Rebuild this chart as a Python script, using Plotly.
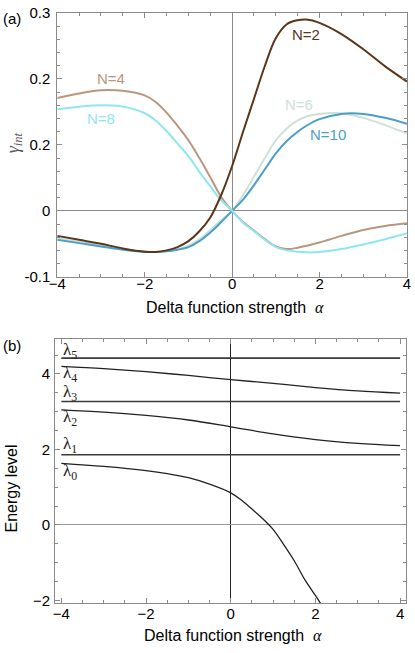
import plotly.graph_objects as go

# ---------------- data: panel (a) ----------------
alpha_a = [-4, -3.5, -3, -2.5, -2, -1.75, -1.5, -1.25, -1, -0.75, -0.5, -0.25, 0,
           0.25, 0.5, 0.75, 1, 1.25, 1.5, 1.7, 2, 2.5, 3, 3.5, 4]
gamma_N2 = [-0.038, -0.044, -0.050, -0.057, -0.062, -0.0625, -0.060, -0.055, -0.046, -0.031, -0.010, 0.024, 0.068,
            0.120, 0.170, 0.220, 0.262, 0.283, 0.289, 0.290, 0.285, 0.268, 0.245, 0.219, 0.196]
gamma_N4 = [0.171, 0.178, 0.183, 0.182, 0.175, 0.165, 0.149, 0.129, 0.107, 0.080, 0.051, 0.021, 0.0,
            -0.017, -0.030, -0.043, -0.054, -0.058, -0.056, -0.053, -0.048, -0.038, -0.029, -0.023, -0.019]
gamma_N6 = [-0.041, -0.047, -0.052, -0.058, -0.062, -0.0625, -0.061, -0.058, -0.053, -0.043, -0.029, -0.014, 0.0,
            0.024, 0.052, 0.080, 0.107, 0.125, 0.137, 0.143, 0.147, 0.148, 0.141, 0.130, 0.117]
gamma_N8 = [0.154, 0.158, 0.160, 0.158, 0.148, 0.137, 0.121, 0.102, 0.083, 0.059, 0.037, 0.016, 0.0,
            -0.018, -0.031, -0.044, -0.055, -0.060, -0.062, -0.063, -0.0625, -0.058, -0.051, -0.043, -0.034]
gamma_N10 = [-0.044, -0.049, -0.054, -0.059, -0.062, -0.0625, -0.0615, -0.059, -0.055, -0.046, -0.033, -0.017, 0.0,
             0.017, 0.039, 0.063, 0.087, 0.106, 0.120, 0.129, 0.139, 0.147, 0.147, 0.141, 0.132]
series_names = ["N=2", "N=4", "N=6", "N=8", "N=10"]
series_colors = ["#5a361a", "#b9977f", "#cfe0d9", "#8fe6f2", "#4a9fc6"]
label_alpha = [1.68, -2.77, 1.52, -3.0, 2.2]
label_gamma = [0.267, 0.200, 0.161, 0.140, 0.115]

ya_tickvals = [-0.1, 0, 0.1, 0.2, 0.3]
ya_ticktext = ["-0.1", "0", "0.2", "0.2", "0.3"]

# ---------------- data: panel (b) ----------------
alpha_b = [-4, -3, -2, -1, 0, 1, 2, 3, 4]
lam1_level = 1.86
lam3_level = 3.27
lam5_level = 4.42
lam2 = [3.05, 2.99, 2.90, 2.78, 2.60, 2.41, 2.26, 2.16, 2.10]
lam4 = [4.20, 4.14, 4.06, 3.96, 3.85, 3.75, 3.64, 3.55, 3.49]
alpha_l0 = [-4, -3, -2, -1.5, -1, -0.5, 0, 0.25, 0.5, 0.75, 1.0, 1.25, 1.5, 1.75, 2.0, 2.15]
lam0 = [1.63, 1.55, 1.44, 1.36, 1.25, 1.08, 0.85, 0.66, 0.42, 0.17, -0.12, -0.52, -0.95, -1.45, -1.87, -2.13]
lam_names = ["λ<sub>5</sub>", "λ<sub>4</sub>", "λ<sub>3</sub>", "λ<sub>2</sub>", "λ<sub>1</sub>", "λ<sub>0</sub>"]
lam_label_E = [4.62, 3.99, 3.50, 2.82, 2.13, 1.39]

SANS = "Liberation Sans, Arial, Helvetica, sans-serif"
SERIF = "Liberation Serif, DejaVu Serif, serif"

fig = go.Figure()

order = [2, 4, 1, 3, 0]
all_vals = [gamma_N2, gamma_N4, gamma_N6, gamma_N8, gamma_N10]
for i in order:
    fig.add_trace(go.Scatter(x=alpha_a, y=all_vals[i], mode="lines",
                             line=dict(color=series_colors[i], width=2, shape="spline", smoothing=1.0),
                             xaxis="x", yaxis="y", showlegend=False, hoverinfo="skip"))

const_alpha = [alpha_b[0], alpha_b[-1]]
for lv in [lam1_level, lam3_level, lam5_level]:
    fig.add_trace(go.Scatter(x=const_alpha, y=[lv, lv], mode="lines", line=dict(color="#3a3a3a", width=1.6),
                             xaxis="x2", yaxis="y2", showlegend=False, hoverinfo="skip"))
for vals in [lam2, lam4]:
    fig.add_trace(go.Scatter(x=alpha_b, y=vals, mode="lines", line=dict(color="#222222", width=1.3, shape="spline"),
                             xaxis="x2", yaxis="y2", showlegend=False, hoverinfo="skip"))
fig.add_trace(go.Scatter(x=alpha_l0, y=lam0, mode="lines", line=dict(color="#222222", width=1.3, shape="spline"),
                         xaxis="x2", yaxis="y2", showlegend=False, hoverinfo="skip"))

annotations = []
for i in range(5):
    annotations.append(dict(x=label_alpha[i], y=label_gamma[i], xref="x", yref="y", text=series_names[i], showarrow=False,
                            xanchor="center", yanchor="middle",
                            font=dict(family=SANS, size=15, color=series_colors[i])))
for name, e in zip(lam_names, lam_label_E):
    annotations.append(dict(x=-3.8, y=e, xref="x2", yref="y2", text=name, showarrow=False,
                            xanchor="center", yanchor="middle",
                            font=dict(family=SERIF, size=17, color="#222222")))

W, H = 415, 653
L, R, T, B = 55, 4, 8, 50
pw, ph = W - L - R, H - T - B


def px(X):
    return (X - L) / pw


def py(Y):
    return (H - B - Y) / ph


def paper_text(X, Y, text, size, color="black", family=SANS, angle=0):
    return dict(x=px(X), y=py(Y), xref="paper", yref="paper", text=text, showarrow=False,
                xanchor="center", yanchor="middle", textangle=angle,
                font=dict(family=family, size=size, color=color))


xtitle = "Delta function strength  <span style='font-family:Liberation Serif'><i>α</i></span>"
annotations += [
    paper_text(12, 14, "(a)", 15),
    paper_text(12, 343, "(b)", 15),
    paper_text(14, 139, "<i>γ<sub>int</sub></i>", 18, color="#555555", family=SERIF, angle=-90),
    paper_text(11, 487, "Energy level", 16, angle=-90),
    paper_text(237, 305, xtitle, 16),
    paper_text(235, 636, xtitle, 16),
]

axis_common = dict(showgrid=False, showline=True, mirror="ticks", linecolor="#8a8a8a", linewidth=1,
                   ticks="inside", ticklen=5, tickcolor="#8a8a8a", ticklabeloverflow="allow",
                   tickfont=dict(family=SANS, size=15, color="black"))
minor_x = dict(tickmode="linear", tick0=0, dtick=0.5, ticks="inside", ticklen=3, tickcolor="#8a8a8a")

fig.update_layout(
    width=W, height=H, margin=dict(l=L, r=R, t=T, b=B),
    paper_bgcolor="white", plot_bgcolor="white", showlegend=False,
    annotations=annotations,
    xaxis=dict(domain=[px(57.3), 1.0], range=[-4, 4], tickmode="linear", tick0=-4, dtick=2, anchor="y",
               zeroline=True, zerolinecolor="#8a8a8a", zerolinewidth=1, ticklabelstandoff=-7,
               minor=minor_x, **axis_common),
    yaxis=dict(domain=[py(274), 1.0], range=[-0.1, 0.3], tickmode="array", tickvals=ya_tickvals, ticktext=ya_ticktext,
               anchor="x", zeroline=True, zerolinecolor="#8a8a8a", zerolinewidth=1, ticklabelstandoff=3,
               minor=dict(tickmode="linear", tick0=0, dtick=0.02, ticks="inside", ticklen=3, tickcolor="#8a8a8a"),
               **axis_common),
    xaxis2=dict(domain=[0.0, px(410)], range=[-4.15, 4.14], tickmode="linear", tick0=-4, dtick=2, anchor="y2",
                zeroline=True, zerolinecolor="#222222", zerolinewidth=1, ticklabelstandoff=-3,
                minor=minor_x, **axis_common),
    yaxis2=dict(domain=[0.0, py(337)], range=[-2.07, 4.92], tickmode="linear", tick0=0, dtick=2, anchor="x2",
                zeroline=True, zerolinecolor="#999999", zerolinewidth=1, ticklabelstandoff=1,
                minor=dict(tickmode="linear", tick0=0, dtick=0.5, ticks="inside", ticklen=3, tickcolor="#8a8a8a"),
                **axis_common),
)

fig.write_html("out.html", config={"displayModeBar": False},
               post_script="document.body.style.margin='0';")
